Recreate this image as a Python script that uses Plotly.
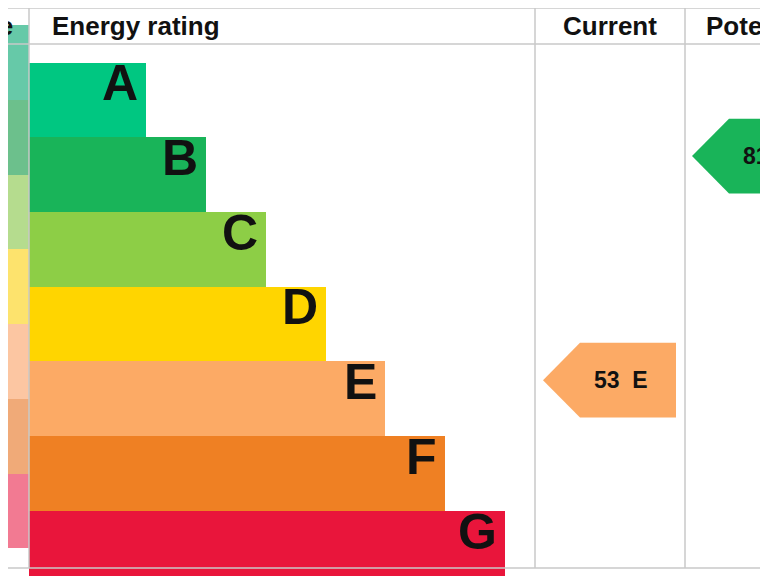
import plotly.graph_objects as go

# EPC bands
bands = ["A", "B", "C", "D", "E", "F", "G"]
ranges = ["92+", "81-91", "69-80", "55-68", "39-54", "21-38", "1-20"]
bar_ends = [146, 206, 266, 326, 385, 445, 505]
colors = ["#00c781", "#19b459", "#8dce46", "#ffd500", "#fcaa65", "#ef8023", "#e9153b"]
light = ["#66c9a8", "#6cc08c", "#b5dc8e", "#fde36d", "#fcc6a2", "#f0aa78", "#f27a92"]

current_score, current_band = 53, "E"
potential_score, potential_band = 81, "B"

row_top, row_h = 44, 74.7
bar_left = 29
centers = [row_top + row_h * (i + 0.5) for i in range(len(bands))]

fig = go.Figure()

# score range column (mostly cropped off on the left)
fig.add_trace(go.Bar(y=centers, x=[bar_left + 60] * 7, base=-60, orientation="h",
                     width=row_h, marker=dict(color=light, line_width=0),
                     hoverinfo="skip"))
fig.add_trace(go.Bar(y=centers, x=[e - bar_left for e in bar_ends], base=bar_left,
                     orientation="h", width=row_h,
                     marker=dict(color=colors, line_width=0), hoverinfo="skip"))

for c, r, e, b in zip(centers, ranges, bar_ends, bands):
    fig.add_annotation(x=e - 6, y=c + 2, text=f"<b>{b}</b>", showarrow=False, xanchor="right",
                       font=dict(size=50, color="#111", family="Liberation Sans"))
    fig.add_annotation(x=9, y=c, text=f"<b>{r}</b>", showarrow=False, xanchor="right",
                       font=dict(size=22, color="#111", family="Liberation Sans"))


def arrow(score, band, x_tip, x_right, color, label):
    i = bands.index(band)
    top, bot, mid = row_top + row_h * i, row_top + row_h * (i + 1), centers[i]
    x_body = x_tip + 37
    fig.add_trace(go.Scatter(x=[x_tip, x_body, x_right, x_right, x_body, x_tip],
                             y=[mid, top, top, bot, bot, mid], fill="toself",
                             fillcolor=color, line=dict(width=0), mode="lines",
                             hoverinfo="skip"))
    fig.add_annotation(x=x_body + 12, y=mid, text=f"<b>{label}</b>", showarrow=False,
                       xanchor="left",
                       font=dict(size=23, color="#111", family="Liberation Sans"))


arrow(current_score, current_band, 543, 676, colors[bands.index(current_band)],
      f"{current_score}  {current_band}")
arrow(potential_score, potential_band, 692, 820, colors[bands.index(potential_band)],
      f"{potential_score}  {potential_band}")

# grid lines
grid = dict(color="#c8c8c8", width=1.5)
for x in [bar_left, 535, 685]:
    fig.add_shape(type="line", x0=x, x1=x, y0=8, y1=568, line=grid)
for y in [8, 44, 568]:
    fig.add_shape(type="line", x0=-10, x1=790, y0=y, y1=y, line=grid)

hdr = dict(size=26, color="#111", family="Liberation Sans")
fig.add_annotation(x=15, y=26, text="<b>Score</b>", showarrow=False, xanchor="right", font=hdr)
fig.add_annotation(x=50, y=26, text="<b>Energy rating</b>", showarrow=False, xanchor="left", font=hdr)
fig.add_annotation(x=610, y=26, text="<b>Current</b>", showarrow=False, font=hdr)
fig.add_annotation(x=704, y=26, text="<b>Potential</b>", showarrow=False, xanchor="left", font=hdr)

fig.update_layout(width=768, height=576, margin=dict(l=0, r=0, t=0, b=0),
                  plot_bgcolor="white", paper_bgcolor="white", showlegend=False,
                  bargap=0,
                  xaxis=dict(range=[8, 776], visible=False, fixedrange=True),
                  yaxis=dict(range=[584, 8], visible=False, fixedrange=True))
fig.write_html("out.html")
